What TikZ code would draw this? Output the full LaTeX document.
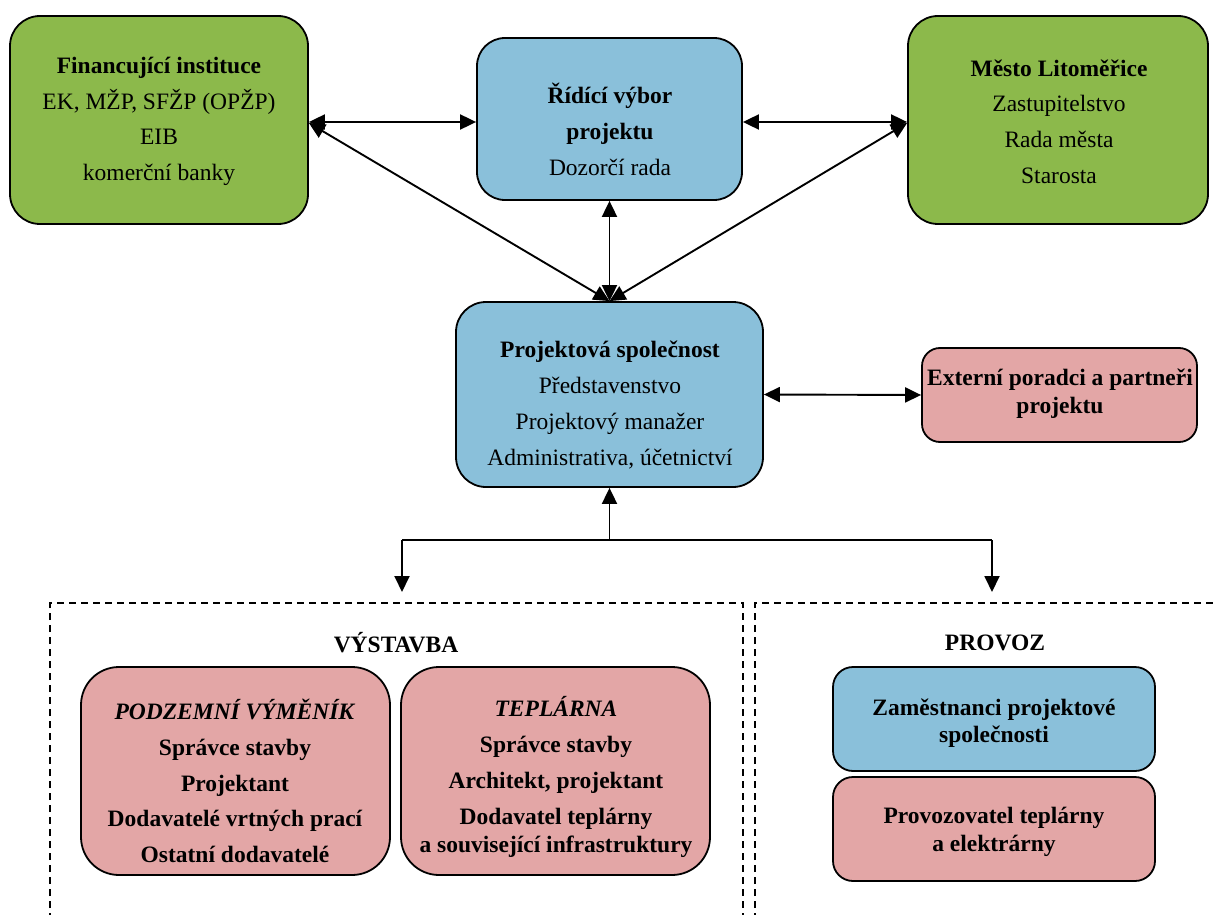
\documentclass[tikz,border=0pt]{standalone}
\usepackage{fontspec}
\IfFontExistsTF{LiberationSerif-Regular.ttf}{%
  \setmainfont{LiberationSerif}[Extension=.ttf,UprightFont=*-Regular,BoldFont=*-Bold,ItalicFont=*-Italic,BoldItalicFont=*-BoldItalic]}{%
  \setmainfont{Liberation Serif}}
\usetikzlibrary{arrows.meta,calc}
\definecolor{grn}{RGB}{140,185,75}
\definecolor{blu}{RGB}{138,192,218}
\definecolor{pnk}{RGB}{227,166,166}
\tikzset{
  box/.style={draw=black, line width=1.8pt, rounded corners=#1, inner sep=0pt},
  box/.default=28pt,
  txt/.style={align=center, inner sep=0pt, font=\fontsize{23.5}{35.7}\selectfont},
  txttwo/.style={align=center, inner sep=0pt, font=\fontsize{23.5}{28}\selectfont},
  tipp/.tip={Triangle[length=16pt,width=15pt]},
  dbl/.style={line width=1.9pt, tipp-tipp},
  one/.style={line width=1.9pt, -tipp},
  plain/.style={line width=1.9pt},
  dsh/.style={line width=1.5pt, dash pattern=on 7pt off 5pt}
}
\begin{document}
\begin{tikzpicture}[x=1pt,y=-1pt]
\useasboundingbox (0,0) rectangle (1216,915);
% boxes
\node[box=30pt, fill=grn, minimum width=298pt, minimum height=208pt] (fin) at (159,120) {};
\node[box=28pt, fill=blu, minimum width=265pt, minimum height=162pt] (rid) at (609.5,119) {};
\node[box=30pt, fill=grn, minimum width=300pt, minimum height=208pt] (mes) at (1058,120) {};
\node[box=30pt, fill=blu, minimum width=307pt, minimum height=185pt] (proj) at (609.5,394.5) {};
\node[box=18pt, fill=pnk, minimum width=275pt, minimum height=94pt] (ext) at (1059.5,395) {};
\node[box=38pt, fill=pnk, minimum width=309pt, minimum height=208pt] (pod) at (235.5,771) {};
\node[box=38pt, fill=pnk, minimum width=309pt, minimum height=208pt] (tep) at (555.5,771) {};
\node[box=20pt, fill=blu, minimum width=322pt, minimum height=104pt] (zam) at (994,719) {};
\node[box=20pt, fill=pnk, minimum width=322pt, minimum height=104pt] (prv) at (994,829) {};
% texts
\node[txt] (fint) at (159,121.5) {\textbf{Financující instituce}\\EK, MŽP, SFŽP (OPŽP)\\EIB\\komerční banky};
\node[txt] (ridt) at (610,129.5) {\textbf{Řídící výbor}\\\textbf{projektu}\\Dozorčí rada};
\node[txt] (mest) at (1059,121.5) {\textbf{Město Litoměřice}\\Zastupitelstvo\\Rada města\\Starosta};
\node[txt] (projt) at (610,405) {\textbf{Projektová společnost}\\Představenstvo\\Projektový manažer\\Administrativa, účetnictví};
\node[txttwo] (extt) at (1060,394) {\textbf{Externí poradci a partneři}\\\textbf{projektu}};
\node[txt] (vys) at (396,643) {\textbf{VÝSTAVBA}};
\node[txt] (prov) at (995,643) {\textbf{PROVOZ}};
\node[txt, font=\fontsize{23.5}{35.7}\selectfont\bfseries] (podt) at (235,781) {\textit{PODZEMNÍ VÝMĚNÍK}\\Správce stavby\\Projektant\\Dodavatelé vrtných prací\\Ostatní dodavatelé};
\node[txt, font=\fontsize{23.5}{35.7}\selectfont\bfseries] (tept) at (556,777) {\textit{TEPLÁRNA}\\Správce stavby\\Architekt, projektant\\Dodavatel teplárny\\[-7.5pt]a související infrastruktury};
\node[txttwo, font=\fontsize{23.5}{27}\selectfont\bfseries] (zamt) at (994,723.5) {Zaměstnanci projektové\\společnosti};
\node[txttwo, font=\fontsize{23.5}{28}\selectfont\bfseries] (prvt) at (994,832) {Provozovatel teplárny\\a elektrárny};
% connectors
\draw[dbl] ($(fin.east)+(0,2)$) -- ($(rid.west)+(0,3)$);
\draw[dbl] ($(rid.east)+(0,3)$) -- ($(mes.west)+(0,2)$);
\draw[dbl] ($(fin.east)+(0,3)$) -- (proj.north);
\draw[dbl] ($(mes.west)+(0,3)$) -- (proj.north);
\draw[dbl] (rid.south) -- (proj.north);
\draw[dbl] (proj.east) -- (ext.west);
\coordinate (split) at (609.5,540);
\coordinate (bl) at (402,540);
\coordinate (br) at (992,540);
\coordinate (blt) at (402,592);
\coordinate (brt) at (992,592);
\draw[one] (split) -- (proj.south);
\draw[plain] (bl) -- (br);
\draw[one] (bl) -- (blt);
\draw[one] (br) -- (brt);
% dashed frames
\coordinate (d1) at (50,920);
\coordinate (d2) at (50,603);
\coordinate (d3) at (743,603);
\coordinate (d4) at (743,920);
\coordinate (e1) at (755,920);
\coordinate (e2) at (755,603);
\coordinate (e3) at (1222,603);
\draw[dsh] (d1) -- (d2) -- (d3) -- (d4);
\draw[dsh] (e1) -- (e2) -- (e3);
\end{tikzpicture}
\end{document}
